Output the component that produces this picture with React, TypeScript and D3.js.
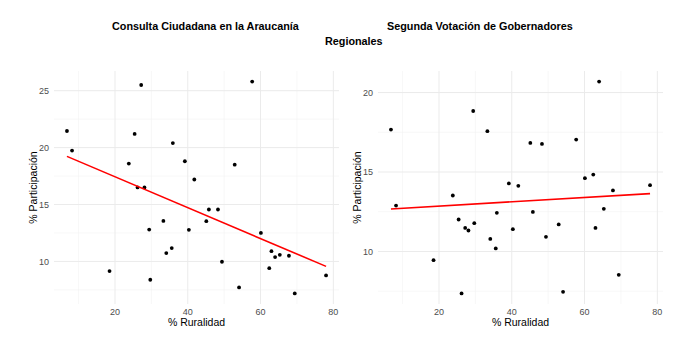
import React from 'react';
import * as d3 from 'd3';

// % ruralidad per comuna (shared by both panels)
const ruralidad = [
  6.8, 8.2, 18.5, 23.8, 25.4, 26.2, 27.2, 28.1, 29.4, 29.7, 33.3, 34.1, 35.6, 35.9, 39.2, 40.3,
  41.8, 45.1, 45.8, 48.3, 49.4, 52.9, 54.1, 57.7, 60.1, 62.4, 63.0, 64.0, 65.3, 67.8, 69.4, 78.0,
];

// % participación, consulta ciudadana
const participacionConsulta = [
  21.46, 19.74, 9.15, 18.6, 21.2, 16.5, 25.5, 16.5, 12.8, 8.39, 13.56, 10.73, 11.17, 20.4, 18.8, 12.78,
  17.2, 13.54, 14.56, 14.56, 9.97, 18.5, 7.72, 25.8, 12.5, 9.41, 10.9, 10.38, 10.58, 10.5, 7.19, 8.77,
];

// % participación, segunda vuelta gobernadores
const participacionGobernadores = [
  17.67, 12.89, 9.45, 13.52, 12.01, 7.36, 11.48, 11.32, 18.84, 11.78, 17.57, 10.79, 10.19, 12.43, 14.28, 11.4,
  14.13, 16.83, 12.49, 16.77, 10.92, 11.7, 7.46, 17.04, 14.61, 14.84, 11.48, 20.69, 12.68, 13.84, 8.53, 14.17,
];

const xTicks = [20, 40, 60, 80];
const xMinor = [10, 30, 50, 70];
const yTicksLeft = [10, 15, 20, 25];
const yMinorLeft = [7.5, 12.5, 17.5, 22.5];
const yTicksRight = [10, 15, 20];
const yMinorRight = [7.5, 12.5, 17.5];

const FONT = '"Liberation Sans", Arial, Helvetica, sans-serif';

const expand = (vals: number[]): [number, number] => {
  const [lo, hi] = d3.extent(vals) as [number, number];
  const pad = (hi - lo) * 0.05;
  return [lo - pad, hi + pad];
};

const fit = (xs: number[], ys: number[]) => {
  const mx = d3.mean(xs)!;
  const my = d3.mean(ys)!;
  let num = 0;
  let den = 0;
  xs.forEach((x, i) => {
    num += (x - mx) * (ys[i] - my);
    den += (x - mx) * (x - mx);
  });
  const b = num / den;
  return (x: number) => my + b * (x - mx);
};

type PanelProps = {
  left: number;
  right: number;
  labelX: number;
  values: number[];
  yTicks: number[];
  yMinor: number[];
};

const Panel: React.FC<PanelProps> = ({ left, right, labelX, values, yTicks, yMinor }) => {
  const top = 71;
  const bottom = 304;
  const x = d3.scaleLinear().domain(expand(ruralidad)).range([left, right]);
  const y = d3.scaleLinear().domain(expand(values)).range([bottom, top]);
  const f = fit(ruralidad, values);
  const [x0, x1] = d3.extent(ruralidad) as [number, number];
  const line = d3.line<number>().x((d) => x(d)).y((d) => y(f(d)));

  return (
    <g>
      {xMinor.map((t) => (
        <line key={'xm' + t} x1={x(t)} x2={x(t)} y1={top} y2={bottom} stroke="#f2f2f2" strokeWidth={0.6} />
      ))}
      {yMinor.map((t) => (
        <line key={'ym' + t} x1={left} x2={right} y1={y(t)} y2={y(t)} stroke="#f2f2f2" strokeWidth={0.6} />
      ))}
      {xTicks.map((t) => (
        <line key={'x' + t} x1={x(t)} x2={x(t)} y1={top} y2={bottom} stroke="#ebebeb" strokeWidth={1} />
      ))}
      {yTicks.map((t) => (
        <line key={'y' + t} x1={left} x2={right} y1={y(t)} y2={y(t)} stroke="#ebebeb" strokeWidth={1} />
      ))}
      {ruralidad.map((r, i) => (
        <circle key={i} cx={x(r)} cy={y(values[i])} r={1.9} fill="#000" />
      ))}
      <path d={line([x0, x1]) || ''} fill="none" stroke="#ff0000" strokeWidth={1.6} />
      {xTicks.map((t) => (
        <text key={'xl' + t} x={x(t)} y={315} textAnchor="middle" fontSize={9} fill="#4d4d4d">
          {t}
        </text>
      ))}
      {yTicks.map((t) => (
        <text key={'yl' + t} x={left - 5} y={y(t) + 3.2} textAnchor="end" fontSize={9} fill="#4d4d4d">
          {t}
        </text>
      ))}
      <text x={(left + right) / 2} y={326} textAnchor="middle" fontSize={10.5} fill="#000">
        % Ruralidad
      </text>
      <text
        transform={`translate(${labelX},${(top + bottom) / 2}) rotate(-90)`}
        textAnchor="middle"
        fontSize={10.5}
        fill="#000"
      >
        % Participación
      </text>
    </g>
  );
};

export default function App() {
  return (
    <svg
      width={685}
      height={360}
      style={{ position: 'absolute', left: 0, top: 0, background: '#fff', fontFamily: FONT }}
    >
      <text x={112} y={30} fontSize={10.8} fontWeight="bold">
        Consulta Ciudadana en la Araucanía
      </text>
      <text x={387} y={30} fontSize={10.8} fontWeight="bold">
        Segunda Votación de Gobernadores
      </text>
      <text x={325} y={45} fontSize={10.8} fontWeight="bold">
        Regionales
      </text>
      <Panel left={54} right={339} labelX={37} values={participacionConsulta} yTicks={yTicksLeft} yMinor={yMinorLeft} />
      <Panel
        left={378}
        right={663}
        labelX={361}
        values={participacionGobernadores}
        yTicks={yTicksRight}
        yMinor={yMinorRight}
      />
    </svg>
  );
}
